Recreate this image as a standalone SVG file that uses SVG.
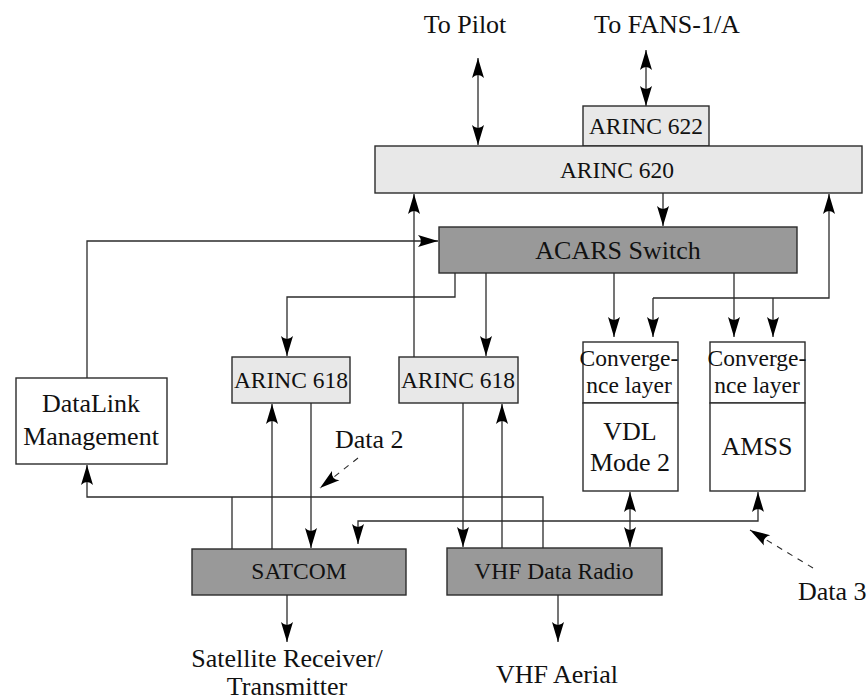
<svg xmlns="http://www.w3.org/2000/svg" width="867" height="699" viewBox="0 0 867 699">
  <style>
    text { font-family: "Liberation Serif", "Times New Roman", serif; fill: #111; text-anchor: middle; }
    .big { font-size: 26px; }
    .mid { font-size: 23.5px; }
    .start { text-anchor: start; }
    .box { stroke: #2b2b2b; stroke-width: 1.4; }
    .light { fill: #e8e8e8; }
    .dark { fill: #999999; }
    .white { fill: #ffffff; }
    .wire { fill: none; stroke: #2b2b2b; stroke-width: 1.3; }
    .arrow { marker-end: url(#head); }
    .both { marker-start: url(#head); marker-end: url(#head); }
    .dash { fill: none; stroke: #2b2b2b; stroke-width: 1.1; stroke-dasharray: 6 6; marker-end: url(#head); }
  </style>
  <defs>
    <!-- filled arrowhead with a slightly hollowed back -->
    <marker id="head" markerUnits="userSpaceOnUse" markerWidth="24" markerHeight="16" viewBox="-22 -8 24 16" refX="0" refY="0" orient="auto-start-reverse">
      <path d="M0,0 L-20,-6 Q-14,0 -20,6 Z" fill="#000"/>
    </marker>
  </defs>

  <rect width="867" height="699" fill="#ffffff"/>

  <!-- free-standing labels -->
  <g id="labels">
    <text class="big" x="465" y="33">To Pilot</text>
    <text class="big" x="667" y="33">To FANS-1/A</text>
    <text class="big" x="287" y="667">Satellite Receiver/</text>
    <text class="big" x="287" y="695">Transmitter</text>
    <text class="big" x="557" y="683">VHF Aerial</text>
    <text class="big start" x="335" y="448">Data 2</text>
    <text class="big start" x="798" y="600">Data 3</text>
  </g>

  <!-- connectors -->
  <g id="connectors">
    <path class="wire both" d="M478,58 V145"/>
    <path class="wire both" d="M646,50 V106"/>
    <path class="wire arrow" d="M663,193 V226"/>
    <path class="wire arrow" d="M455,273 V297 H287 V356"/>
    <path class="wire arrow" d="M486,273 V356"/>
    <path class="wire arrow" d="M414,357 V194"/>
    <path class="wire arrow" d="M87,378 V241 H438"/>
    <path class="wire arrow" d="M614,273 V337"/>
    <path class="wire arrow" d="M734,273 V337"/>
    <path class="wire arrow" d="M653,298 H829 V194"/>
    <path class="wire arrow" d="M653,298 V337"/>
    <path class="wire arrow" d="M773,298 V337"/>
    <path class="wire arrow" d="M272,549 V404"/>
    <path class="wire arrow" d="M311,403 V548"/>
    <path class="wire arrow" d="M463,403 V547"/>
    <path class="wire arrow" d="M502,548 V404"/>
    <path class="wire arrow" d="M543,548 V497 H87 V465"/>
    <path class="wire" d="M232,497 V549"/>
    <path class="wire both" d="M358,544 V521 H758 V492"/>
    <path class="wire both" d="M630,492 V547"/>
    <path class="wire arrow" d="M287,595 V642"/>
    <path class="wire arrow" d="M558,595 V642"/>
    <path class="dash" d="M358,458 L320,488"/>
    <path class="dash" d="M813,568 L750,530"/>
  </g>

  <!-- nodes -->
  <g id="arinc622">
    <rect class="box light" x="583" y="106" width="126" height="40"/>
    <text class="mid" x="646" y="134">ARINC 622</text>
  </g>
  <g id="arinc620">
    <rect class="box light" x="375" y="146" width="487" height="47"/>
    <text class="mid" x="617" y="178">ARINC 620</text>
  </g>
  <g id="acars-switch">
    <rect class="box dark" x="439" y="227" width="358" height="46"/>
    <text class="big" x="618" y="259">ACARS Switch</text>
  </g>
  <g id="arinc618-sat">
    <rect class="box light" x="232" y="357" width="118" height="46"/>
    <text class="mid" x="291" y="388">ARINC 618</text>
  </g>
  <g id="arinc618-vhf">
    <rect class="box light" x="399" y="357" width="119" height="46"/>
    <text class="mid" x="458" y="388">ARINC 618</text>
  </g>
  <g id="convergence-vdl">
    <rect class="box white" x="583" y="342" width="95" height="61"/>
    <text class="mid" x="629" y="366">Converge-</text>
    <text class="mid" x="629" y="393">nce layer</text>
  </g>
  <g id="vdl-mode2">
    <rect class="box white" x="583" y="403" width="95" height="88"/>
    <text class="big" x="630" y="440">VDL</text>
    <text class="big" x="630" y="471">Mode 2</text>
  </g>
  <g id="convergence-amss">
    <rect class="box white" x="710" y="342" width="95" height="61"/>
    <text class="mid" x="757" y="366">Converge-</text>
    <text class="mid" x="757" y="393">nce layer</text>
  </g>
  <g id="amss">
    <rect class="box white" x="710" y="403" width="95" height="88"/>
    <text class="big" x="757" y="455">AMSS</text>
  </g>
  <g id="datalink-management">
    <rect class="box white" x="16" y="378" width="151" height="86"/>
    <text class="big" x="91" y="412">DataLink</text>
    <text class="big" x="91" y="445">Management</text>
  </g>
  <g id="satcom">
    <rect class="box dark" x="192" y="549" width="214" height="46"/>
    <text class="mid" x="299" y="579">SATCOM</text>
  </g>
  <g id="vhf-data-radio">
    <rect class="box dark" x="447" y="548" width="215" height="47"/>
    <text class="mid" x="554" y="579">VHF Data Radio</text>
  </g>
</svg>
